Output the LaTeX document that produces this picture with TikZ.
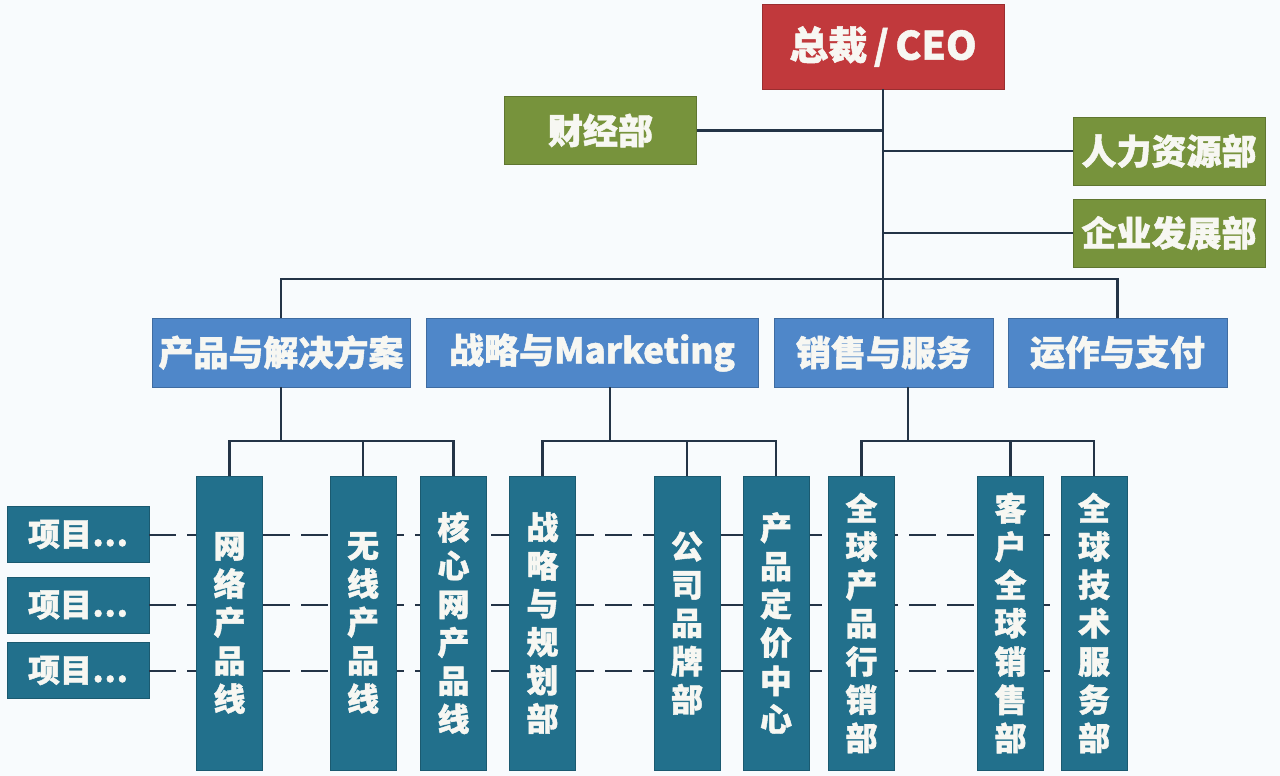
\documentclass[tikz,border=0pt]{standalone}
\usepackage{fontspec}
\newfontfamily\cjk{Noto Sans CJK SC}[BoldFeatures={FakeBold=1.3}]
\definecolor{ceored}{HTML}{C1393C}
\definecolor{deptgreen}{HTML}{77933C}
\definecolor{divblue}{HTML}{4F87C9}
\definecolor{unitteal}{HTML}{22708C}
\definecolor{linenavy}{HTML}{243447}
\definecolor{bgc}{HTML}{F8FBFD}
\definecolor{txt}{HTML}{F7F7F2}
\tikzset{
  box/.style={rectangle, inner sep=0pt, text=txt, font=\cjk\bfseries\fontsize{35}{40}\selectfont},
  ceobox/.style={box, fill=ceored, draw=ceored!80!black, line width=0.6pt, minimum width=242pt, minimum height=85pt, font=\cjk\bfseries\fontsize{39}{44}\selectfont},
  greenbox/.style={box, fill=deptgreen, draw=deptgreen!80!black, line width=0.6pt, minimum width=192pt, minimum height=68pt},
  bluebox/.style={box, fill=divblue, draw=divblue!80!black, line width=0.6pt, minimum height=69pt},
  tallbox/.style={box, fill=unitteal, draw=unitteal!80!black, line width=0.6pt, minimum width=66pt, minimum height=294pt, align=center, font=\cjk\bfseries\fontsize{32}{38.3}\selectfont},
  itembox/.style={box, fill=unitteal, draw=unitteal!80!black, line width=0.6pt, minimum width=142pt, minimum height=56pt, font=\cjk\bfseries\fontsize{32}{36}\selectfont},
  conn/.style={draw=linenavy, line width=2.6pt},
  dashline/.style={draw=linenavy, line width=2pt, dash pattern=on 27pt off 11pt}
}
\begin{document}
\begin{tikzpicture}[x=1pt,y=-1pt]
\fill[bgc] (0,0) rectangle (1280,776);
\useasboundingbox (0,0) rectangle (1280,776);
% top level
\node[ceobox] (ceo) at (883,46.5) {总裁\,/\,CEO};
\node[greenbox] (fin) at (600.5,130.5) {财经部};
\node[greenbox] (hr) at (1169,151) {人力资源部};
\node[greenbox] (dev) at (1169,233) {企业发展部};
% divisions
\node[bluebox, minimum width=258pt] (prod) at (281,352.5) {产品与解决方案};
\node[bluebox, minimum width=332pt] (mkt) at (592,352.5) {战略与Marketing};
\node[bluebox, minimum width=219pt] (sales) at (883.5,352.5) {销售与服务};
\node[bluebox, minimum width=219pt] (ops) at (1117.5,352.5) {运作与支付};
% project items
\node[itembox] (p1) at (78,534.5) {项目…};
\node[itembox] (p2) at (78,605) {项目…};
\node[itembox] (p3) at (78,670.5) {项目…};
% right end of the project lines
\coordinate (gtsw) at (1061,0);
% dashed project lines (behind units)
\draw[dashline] (p1.east) -- (p1.east -| gtsw);
\draw[dashline] (p2.east) -- (p2.east -| gtsw);
\draw[dashline] (p3.east) -- (p3.east -| gtsw);
% units
\node[tallbox] (net) at (229.5,623) {网\\络\\产\\品\\线};
\node[tallbox] (wl) at (363,623) {无\\线\\产\\品\\线};
\node[tallbox] (core) at (453.5,623) {核\\心\\网\\产\\品\\线};
\node[tallbox] (plan) at (542.5,623) {战\\略\\与\\规\\划\\部};
\node[tallbox] (brand) at (687,623) {公\\司\\品\\牌\\部};
\node[tallbox] (price) at (776,623) {产\\品\\定\\价\\中\\心};
\node[tallbox] (gpm) at (861.5,623) {全\\球\\产\\品\\行\\销\\部};
\node[tallbox] (gsales) at (1010.5,623) {客\\户\\全\\球\\销\\售\\部};
\node[tallbox] (gts) at (1094,623) {全\\球\\技\\术\\服\\务\\部};
% top connectors
\coordinate (busmid) at (883,279);
\draw[conn] (ceo.south) -- (ceo.south |- sales.north);
\draw[conn] (fin.east) -- (fin.east -| ceo.south);
\draw[conn] (hr.west) -- (hr.west -| ceo.south);
\draw[conn] (dev.west) -- (dev.west -| ceo.south);
\draw[conn] (prod.north) |- (busmid) -| (ops.north);
% product sub-bus
\coordinate (pb) at (281,441);
\draw[conn] (prod.south) -- (pb);
\draw[conn] (net.north) |- (pb) -| (core.north);
\draw[conn] (wl.north) -- (wl.north |- pb);
% marketing sub-bus
\coordinate (sb) at (610,441);
\draw[conn] (mkt.south -| sb) -- (sb);
\draw[conn] (plan.north) |- (sb) -| (price.north);
\draw[conn] (brand.north) -- (brand.north |- sb);
% sales sub-bus
\coordinate (xb) at (908,441);
\draw[conn] (sales.south -| xb) -- (xb);
\draw[conn] (gpm.north) |- (xb) -| (gts.north);
\draw[conn] (gsales.north) -- (gsales.north |- xb);
\end{tikzpicture}
\end{document}
